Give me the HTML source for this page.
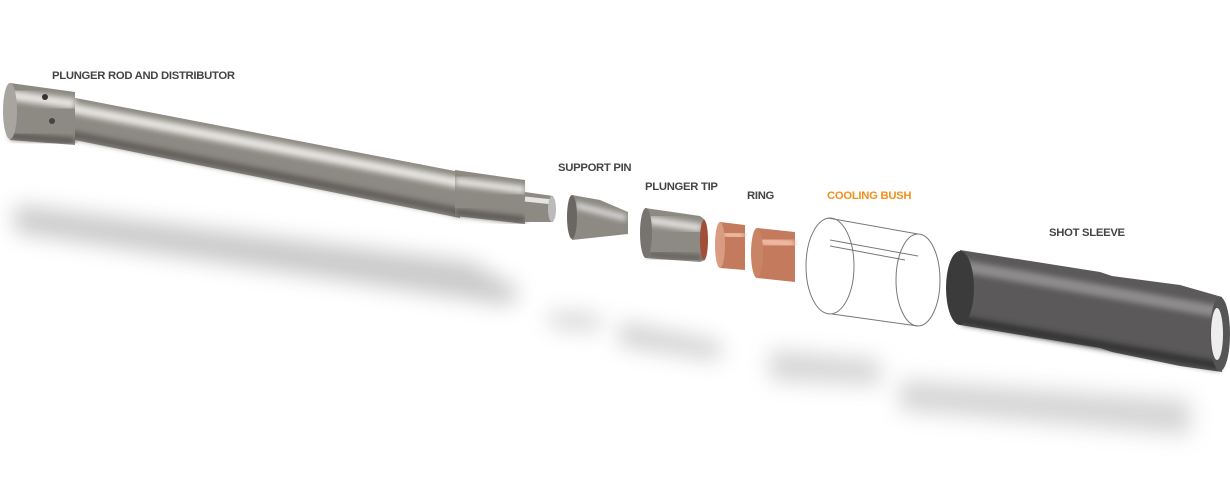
<!DOCTYPE html>
<html><head><meta charset="utf-8"><style>
html,body{margin:0;padding:0;background:#fff;width:1230px;height:500px;overflow:hidden}
svg{display:block}
text{font-family:"Liberation Sans",sans-serif;font-weight:bold;font-size:11.3px;fill:#444;letter-spacing:-0.3px}
</style></head><body>
<svg width="1230" height="500" viewBox="0 0 1230 500">
<defs>
<filter id="b" x="-20%" y="-80%" width="140%" height="260%"><feGaussianBlur stdDeviation="11"/></filter>
<filter id="s" x="-10%" y="-50%" width="120%" height="200%"><feGaussianBlur stdDeviation="3"/></filter>
</defs>
<!-- shadow -->
<g filter="url(#b)" opacity=".35">
<polygon points="15,205 470,262 520,290 510,305 15,232" fill="#666"/>
<polygon points="550,312 600,316 600,330 550,326" fill="#777"/>
<polygon points="620,322 720,342 720,360 620,345" fill="#777"/>
<polygon points="770,350 880,360 880,385 770,380" fill="#888"/>
<polygon points="900,380 1190,400 1190,435 900,410" fill="#888"/>
</g>
<!-- rod -->
<g>
<polygon points="60,95 460,172 460,218 60,137" fill="#8d8983"/>
<line x1="60" y1="106" x2="460" y2="183" stroke="#e6e4e0" stroke-width="10" filter="url(#s)"/>
<line x1="60" y1="132" x2="460" y2="212" stroke="#5d5a56" stroke-width="7" filter="url(#s)"/>
<polygon points="455,170 525,180 525,224 455,216" fill="#8d8983"/>
<line x1="455" y1="181" x2="525" y2="190" stroke="#e6e4e0" stroke-width="8" filter="url(#s)"/>
<line x1="455" y1="212" x2="525" y2="220" stroke="#55524f" stroke-width="6" filter="url(#s)"/>
<polygon points="525,192 553,196 553,222 525,222" fill="#8d8983"/>
<line x1="525" y1="199" x2="553" y2="202" stroke="#e6e4e0" stroke-width="5"/>
<ellipse cx="552" cy="209" rx="4" ry="13" fill="#bbb"/>
<polygon points="10,83 75,92 75,145 10,140" fill="#8d8983"/>
<line x1="10" y1="95" x2="75" y2="104" stroke="#e6e4e0" stroke-width="10" filter="url(#s)"/>
<line x1="10" y1="136" x2="75" y2="141" stroke="#55524f" stroke-width="6" filter="url(#s)"/>
<ellipse cx="10" cy="111" rx="7" ry="28" fill="#a8a49f"/>
<circle cx="45" cy="97" r="3" fill="#333"/>
<circle cx="52" cy="121" r="3" fill="#444"/>
</g>
<!-- support pin -->
<polygon points="572,195 600,200 628,212 628,234 600,237 572,240" fill="#8d8983"/>
<line x1="575" y1="205" x2="626" y2="218" stroke="#ddd" stroke-width="6" filter="url(#s)"/>
<ellipse cx="572" cy="217" rx="5" ry="22" fill="#6a6762"/>
<!-- plunger tip -->
<polygon points="645,208 700,216 705,220 705,260 700,262 645,258" fill="#8d8983"/>
<line x1="648" y1="220" x2="702" y2="228" stroke="#e2e0dc" stroke-width="8" filter="url(#s)"/>
<line x1="648" y1="254" x2="702" y2="258" stroke="#5a5754" stroke-width="5" filter="url(#s)"/>
<ellipse cx="646" cy="233" rx="6" ry="25" fill="#77736e"/>
<ellipse cx="704" cy="240" rx="4" ry="20" fill="#a14f38"/>
<!-- rings -->
<polygon points="720,222 745,225 745,270 720,268" fill="#c47a5c"/>
<line x1="722" y1="234" x2="745" y2="236" stroke="#f3c0a8" stroke-width="8" filter="url(#s)"/>
<ellipse cx="720" cy="245" rx="5" ry="23" fill="#d99c82"/>
<polygon points="757,228 795,232 795,282 757,278" fill="#c47a5c"/>
<line x1="759" y1="241" x2="795" y2="244" stroke="#f3c0a8" stroke-width="9" filter="url(#s)"/>
<ellipse cx="757" cy="253" rx="6" ry="25" fill="#c98466"/>
<!-- cooling bush -->
<g fill="none" stroke="#777" stroke-width="1">
<ellipse cx="830" cy="266" rx="24" ry="48"/>
<ellipse cx="918" cy="280" rx="22" ry="46"/>
<line x1="828" y1="218" x2="918" y2="234"/>
<line x1="832" y1="314" x2="918" y2="326"/>
<line x1="830" y1="240" x2="918" y2="256"/>
<line x1="830" y1="246" x2="905" y2="260"/>
</g>
<!-- shot sleeve -->
<polygon points="960,250 1100,272 1112,276 1180,285 1222,297 1222,372 1180,366 1112,352 1100,348 960,325" fill="#5b5959"/>
<line x1="962" y1="266" x2="1220" y2="312" stroke="#8e8c8c" stroke-width="12" filter="url(#s)"/>
<line x1="962" y1="320" x2="1220" y2="366" stroke="#333" stroke-width="8" filter="url(#s)"/>
<ellipse cx="960" cy="288" rx="14" ry="37" fill="#3c3b3b"/>
<ellipse cx="1220" cy="334" rx="10" ry="37" fill="#555"/>
<ellipse cx="1217" cy="334" rx="6" ry="26" fill="#eee"/>
<!-- labels -->
<text x="52" y="79">PLUNGER ROD AND DISTRIBUTOR</text>
<text x="558" y="171">SUPPORT PIN</text>
<text x="645" y="190">PLUNGER TIP</text>
<text x="747" y="199">RING</text>
<text x="827" y="199" style="fill:#f0901a">COOLING BUSH</text>
<text x="1049" y="236">SHOT SLEEVE</text>
</svg>
</body></html>
